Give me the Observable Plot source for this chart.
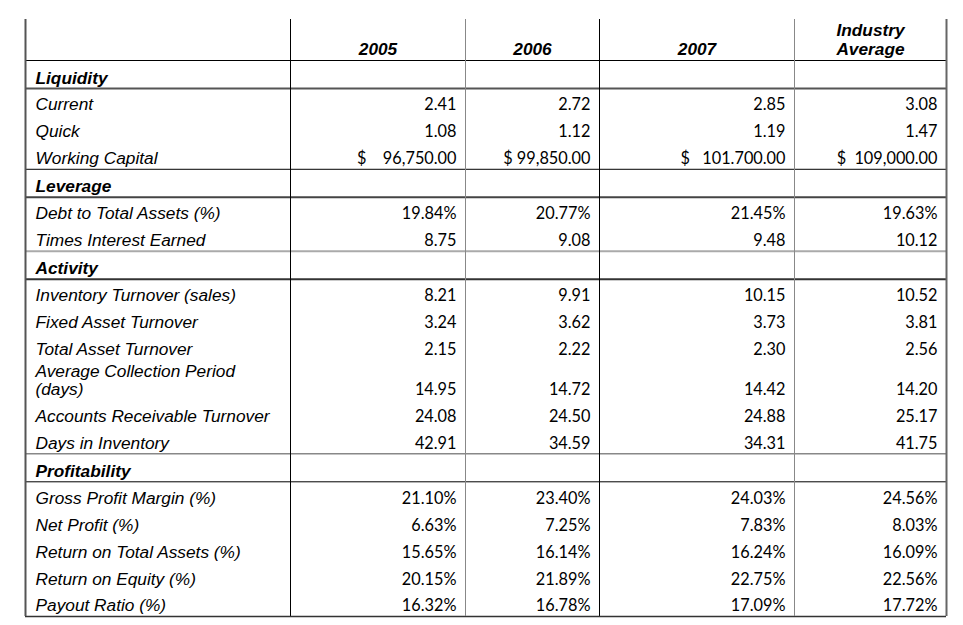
<!DOCTYPE html>
<html>
<head>
<meta charset="utf-8">
<script src="https://cdn.jsdelivr.net/npm/d3@7"></script>
<script src="https://cdn.jsdelivr.net/npm/@observablehq/plot@0.6"></script>
<style>
  html, body { margin: 0; padding: 0; background: #fff; }
  #chart { position: absolute; left: 0; top: 0; }
</style>
</head>
<body>
<div id="chart"></div>
<script>
// ---------- data ----------
const columns = ["2005", "2006", "2007", "Industry Average"];
const sections = ["Liquidity", "Leverage", "Activity", "Profitability"];
const itemLabels = [
  "Current", "Quick", "Working Capital",
  "Debt to Total Assets (%)", "Times Interest Earned",
  "Inventory Turnover (sales)", "Fixed Asset Turnover", "Total Asset Turnover",
  "Average Collection Period\n(days)", "Accounts Receivable Turnover", "Days in Inventory",
  "Gross Profit Margin (%)", "Net Profit (%)", "Return on Total Assets (%)",
  "Return on Equity (%)", "Payout Ratio (%)"
];
const itemSections = [
  "Liquidity", "Liquidity", "Liquidity",
  "Leverage", "Leverage",
  "Activity", "Activity", "Activity", "Activity", "Activity", "Activity",
  "Profitability", "Profitability", "Profitability", "Profitability", "Profitability"
];
const values2005 = ["2.41", "1.08", "$\u2003 96,750.00", "19.84%", "8.75", "8.21", "3.24", "2.15",
  "14.95", "24.08", "42.91", "21.10%", "6.63%", "15.65%", "20.15%", "16.32%"];
const values2006 = ["2.72", "1.12", "$ 99,850.00", "20.77%", "9.08", "9.91", "3.62", "2.22",
  "14.72", "24.50", "34.59", "23.40%", "7.25%", "16.14%", "21.89%", "16.78%"];
const values2007 = ["2.85", "1.19", "$\u2002 101.700.00", "21.45%", "9.48", "10.15", "3.73", "2.30",
  "14.42", "24.88", "34.31", "24.03%", "7.83%", "16.24%", "22.75%", "17.09%"];
const valuesIndustry = ["3.08", "1.47", "$\u2002109,000.00", "19.63%", "10.12", "10.52", "3.81", "2.56",
  "14.20", "25.17", "41.75", "24.56%", "8.03%", "16.09%", "22.56%", "17.72%"];
const valueColumns = [values2005, values2006, values2007, valuesIndustry];

// ---------- layout (code, not data) ----------
const labelColWidth = 265;
const colWidths = [175, 134, 195, 152];
const headerH = 41, sectionH = 28, itemH = 26.93, doubleH = 40;

const colEdges = [0, labelColWidth];
colWidths.forEach(w => colEdges.push(colEdges[colEdges.length - 1] + w));
const tableW = colEdges[colEdges.length - 1];

let yPos = headerH;
const sectionRows = [], itemRows = [], hLines = [];
const titleLineStyle = {Liquidity: ["#555", 2], Leverage: ["#444", 2], Activity: ["#333", 2], Profitability: ["#000", 1]};
const endLineStyle = {Liquidity: ["#000", 1], Leverage: ["#aaa", 2], Activity: ["#888", 1.5], Profitability: ["#333", 1.5]};
hLines.push({y: headerH, stroke: "#000", w: 1});
sections.forEach(s => {
  sectionRows.push({label: s, bottom: yPos + sectionH});
  yPos += sectionH;
  hLines.push({y: yPos, stroke: titleLineStyle[s][0], w: titleLineStyle[s][1]});
  itemLabels.forEach((lab, i) => {
    if (itemSections[i] !== s) return;
    const h = lab.includes("\n") ? doubleH : itemH;
    yPos += h;
    itemRows.push({label: lab, index: i, bottom: yPos});
  });
  hLines.push({y: yPos, stroke: endLineStyle[s][0], w: endLineStyle[s][1]});
});
const tableH = yPos;

const vStyles = [["#555", 2], ["#000", 1], ["#888", 1], ["#000", 1], ["#888", 1], ["#666", 2]];
const vLines = colEdges.map((x, i) => ({x, stroke: vStyles[i][0], w: vStyles[i][1]}));

const headerCells = columns.map((c, j) => ({label: c, cx: (colEdges[j + 1] + colEdges[j + 2]) / 2}));
const valueCells = itemRows.flatMap(r => columns.map((c, j) => ({
  text: valueColumns[j][r.index], right: colEdges[j + 2] - 9, bottom: r.bottom
})));

const labelFont = "'Liberation Sans', Arial, Helvetica, sans-serif";
const numFont = "Lato, 'Open Sans', sans-serif";
const labelSize = 17.3;

const tableLeft = 25, tableTop = 19;
const chart = Plot.plot({
  width: 963,
  height: 625,
  marginLeft: 0, marginRight: 0, marginTop: 0, marginBottom: 0,
  x: {domain: [0, tableW], range: [tableLeft, tableLeft + tableW], axis: null},
  y: {domain: [0, tableH], range: [tableTop, tableTop + tableH], axis: null},
  color: {type: "identity"},
  style: {background: "#fff", overflow: "visible"},
  marks: [
    Plot.ruleY(hLines, {y: "y", x1: 0, x2: tableW, stroke: "stroke", strokeWidth: "w"}),
    Plot.ruleX(vLines, {x: "x", y1: 0, y2: tableH, stroke: "stroke", strokeWidth: "w"}),
    Plot.text(headerCells, {
      x: "cx", y: headerH - 6, text: "label", lineWidth: 6, lineAnchor: "bottom", lineHeight: 1.05,
      textAnchor: "middle", fontFamily: labelFont, fontSize: labelSize, fontWeight: "bold", fontStyle: "italic", fill: "#000"
    }),
    Plot.text(sectionRows, {
      x: 10, y: d => d.bottom - 5, text: "label", lineAnchor: "bottom", textAnchor: "start",
      fontFamily: labelFont, fontSize: labelSize, fontWeight: "bold", fontStyle: "italic", fill: "#000"
    }),
    Plot.text(itemRows, {
      x: 10, y: d => d.bottom - 5, text: "label", lineAnchor: "bottom", lineHeight: 1.05, textAnchor: "start",
      fontFamily: labelFont, fontSize: labelSize, fontStyle: "italic", fill: "#000"
    }),
    Plot.text(valueCells, {
      x: "right", y: d => d.bottom - 5, text: "text", lineAnchor: "bottom", textAnchor: "end",
      fontFamily: numFont, fontSize: 16.3, fill: "#000"
    })
  ]
});
document.getElementById("chart").appendChild(chart);
</script>
</body>
</html>
